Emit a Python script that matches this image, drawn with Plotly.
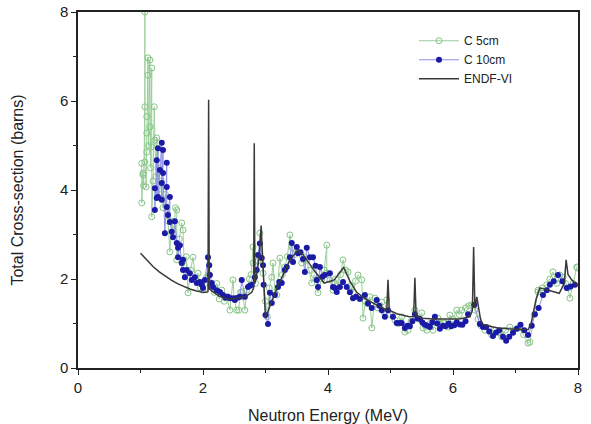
import plotly.graph_objects as go

# ENDF-VI evaluated curve
endf_x = [1.0, 1.1, 1.2, 1.3, 1.4, 1.5, 1.6, 1.7, 1.8, 1.9, 2.0, 2.06, 2.08, 2.09, 2.10, 2.15, 2.25, 2.4, 2.55, 2.7,
          2.78, 2.81, 2.82, 2.83, 2.86, 2.9, 2.93, 2.96, 3.0, 3.1, 3.2, 3.3, 3.4, 3.52, 3.6, 3.7, 3.8, 3.94, 4.1,
          4.25, 4.35, 4.46, 4.6, 4.8, 4.94, 4.96, 4.98, 5.1, 5.3, 5.37, 5.39, 5.41, 5.5, 5.7, 5.9, 6.1, 6.27, 6.31,
          6.33, 6.35, 6.38, 6.4, 6.44, 6.48, 6.6, 6.72, 6.9, 7.1, 7.2, 7.25, 7.33, 7.39, 7.5, 7.6, 7.7, 7.78, 7.81,
          7.84, 7.9, 8.0]
endf_y = [2.58, 2.42, 2.28, 2.16, 2.06, 1.97, 1.89, 1.83, 1.77, 1.73, 1.70, 1.70, 1.72, 6.03, 1.78, 1.72, 1.62, 1.55,
          1.57, 1.62, 1.70, 1.80, 5.05, 1.90, 2.10, 2.50, 3.20, 2.30, 1.12, 1.50, 1.85, 2.15, 2.45, 2.65, 2.55, 2.35,
          2.15, 1.91, 1.98, 2.26, 1.95, 1.70, 1.55, 1.40, 1.30, 1.98, 1.30, 1.22, 1.15, 1.16, 2.03, 1.16, 1.12, 1.10,
          1.10, 1.10, 1.15, 1.30, 2.72, 1.35, 1.60, 1.45, 1.10, 0.97, 0.93, 0.90, 0.88, 0.86, 0.86, 1.00, 1.55, 1.80,
          1.76, 1.72, 1.68, 1.90, 2.43, 2.10, 1.98, 1.85]

# C 10cm measurement
c10_x = [1.23, 1.23, 1.26, 1.26, 1.28, 1.28, 1.31, 1.34, 1.34, 1.34, 1.36, 1.36, 1.39, 1.42, 1.42, 1.42, 1.44, 1.47,
         1.47, 1.50, 1.52, 1.55, 1.58, 1.60, 1.60, 1.63, 1.66, 1.68, 1.68, 1.71, 1.74, 1.79, 1.82, 1.87, 1.90, 1.95,
         1.98, 2.00, 2.03, 2.08, 2.10, 2.11, 2.14, 2.16, 2.22, 2.27, 2.32, 2.36, 2.40, 2.43, 2.48, 2.51, 2.55, 2.59,
         2.62, 2.67, 2.72, 2.75, 2.78, 2.83, 2.86, 2.88, 2.91, 2.94, 2.96, 2.97, 3.00, 3.04, 3.07, 3.10, 3.15, 3.20,
         3.22, 3.26, 3.31, 3.34, 3.39, 3.42, 3.44, 3.50, 3.52, 3.56, 3.60, 3.63, 3.66, 3.71, 3.76, 3.80, 3.82, 3.84,
         3.87, 3.91, 3.95, 4.03, 4.08, 4.11, 4.14, 4.19, 4.24, 4.30, 4.35, 4.40, 4.45, 4.51, 4.59, 4.64, 4.70, 4.78,
         4.82, 4.86, 4.91, 4.96, 5.04, 5.10, 5.15, 5.18, 5.23, 5.27, 5.31, 5.35, 5.39, 5.43, 5.47, 5.51, 5.55, 5.59,
         5.63, 5.67, 5.71, 5.75, 5.79, 5.84, 5.88, 5.93, 5.97, 6.02, 6.06, 6.11, 6.15, 6.20, 6.24, 6.34, 6.43, 6.48,
         6.53, 6.58, 6.64, 6.69, 6.74, 6.80, 6.85, 6.90, 6.96, 7.02, 7.08, 7.14, 7.20, 7.26, 7.31, 7.37, 7.44, 7.50,
         7.55, 7.61, 7.68, 7.75, 7.82, 7.88, 7.95]
c10_y = [4.04, 3.55, 4.67, 3.82, 4.94, 3.84, 4.45, 5.06, 4.16, 3.78, 4.90, 4.38, 3.03, 4.61, 4.07, 3.62, 3.44, 3.84,
         3.28, 3.06, 2.94, 3.30, 2.81, 2.70, 2.49, 2.76, 2.36, 2.43, 2.20, 2.04, 2.20, 2.13, 1.98, 2.04, 1.91, 1.93,
         1.87, 1.80, 1.98, 2.49, 2.31, 2.09, 1.91, 1.82, 1.75, 1.71, 1.64, 1.58, 1.60, 1.57, 1.57, 1.53, 1.58, 1.60,
         1.98, 1.60, 1.82, 1.85, 1.87, 2.04, 2.20, 2.54, 2.80, 2.47, 2.31, 1.87, 1.19, 0.99, 1.69, 1.46, 1.64, 1.82,
         1.93, 1.91, 2.20, 2.27, 2.49, 2.81, 2.38, 2.72, 2.58, 2.60, 2.45, 2.16, 2.70, 2.49, 2.49, 2.30, 1.98, 1.82,
         2.27, 2.05, 2.09, 2.13, 1.82, 1.80, 1.71, 1.82, 1.93, 1.82, 1.70, 1.57, 1.60, 1.55, 1.64, 1.45, 1.35, 1.53,
         1.40, 1.30, 1.15, 1.30, 1.15, 1.01, 1.01, 1.01, 0.90, 0.95, 0.94, 1.05, 1.21, 1.12, 1.10, 1.02, 0.97, 0.95,
         0.92, 1.03, 1.15, 1.00, 0.88, 0.95, 0.94, 1.00, 0.94, 0.96, 1.03, 0.98, 0.97, 1.05, 1.21, 1.42, 0.99, 0.92,
         0.92, 0.82, 0.72, 0.80, 0.85, 0.70, 0.61, 0.70, 0.79, 0.88, 0.97, 0.85, 0.74, 0.95, 1.21, 1.35, 1.64, 1.75,
         1.87, 1.95, 2.09, 1.95, 1.80, 1.83, 1.87]

# C 5cm measurement
c5_x = [1.02, 1.02, 1.04, 1.04, 1.05, 1.07, 1.07, 1.07, 1.09, 1.10, 1.10, 1.10, 1.12, 1.12, 1.13, 1.15, 1.15, 1.16,
        1.18, 1.18, 1.18, 1.20, 1.22, 1.23, 1.25, 1.26, 1.28, 1.30, 1.33, 1.36, 1.40, 1.44, 1.47, 1.50, 1.53, 1.56,
        1.58, 1.58, 1.62, 1.66, 1.68, 1.70, 1.73, 1.76, 1.80, 1.84, 1.88, 1.92, 1.96, 2.00, 2.03, 2.06, 2.10, 2.13,
        2.18, 2.22, 2.26, 2.30, 2.34, 2.38, 2.43, 2.48, 2.50, 2.54, 2.57, 2.60, 2.62, 2.64, 2.67, 2.70, 2.74, 2.77,
        2.80, 2.80, 2.84, 2.88, 2.91, 2.96, 3.00, 3.03, 3.06, 3.10, 3.12, 3.15, 3.18, 3.23, 3.27, 3.31, 3.35, 3.39,
        3.43, 3.47, 3.52, 3.58, 3.62, 3.66, 3.70, 3.74, 3.78, 3.82, 3.84, 3.90, 3.94, 3.98, 3.98, 4.03, 4.08, 4.12,
        4.16, 4.20, 4.24, 4.28, 4.32, 4.36, 4.40, 4.44, 4.48, 4.54, 4.56, 4.60, 4.63, 4.67, 4.70, 4.75, 4.80, 4.86,
        4.90, 4.94, 5.00, 5.07, 5.12, 5.18, 5.23, 5.28, 5.33, 5.39, 5.44, 5.50, 5.52, 5.58, 5.63, 5.68, 5.72, 5.76,
        5.84, 5.87, 5.92, 5.95, 6.00, 6.06, 6.10, 6.14, 6.20, 6.25, 6.30, 6.35, 6.40, 6.45, 6.51, 6.57, 6.62, 6.68,
        6.75, 6.78, 6.84, 6.91, 6.97, 7.04, 7.07, 7.13, 7.20, 7.23, 7.30, 7.36, 7.36, 7.43, 7.50, 7.55, 7.60, 7.66,
        7.71, 7.76, 7.80, 7.84, 7.87, 7.92, 7.98, 7.99]
c5_y = [4.60, 3.71, 4.38, 4.34, 4.10, 5.87, 8.00, 4.63, 4.07, 5.65, 5.28, 4.85, 6.97, 6.58, 5.00, 6.92, 5.42, 4.50,
        6.74, 4.97, 3.40, 4.20, 5.87, 5.12, 4.30, 5.17, 4.50, 3.90, 4.20, 3.60, 3.90, 3.30, 2.61, 3.30, 3.00, 3.60,
        3.55, 2.43, 2.90, 3.26, 3.10, 2.30, 2.50, 1.69, 2.20, 2.49, 2.00, 2.13, 1.80, 1.75, 1.90, 2.04, 2.10, 1.85,
        1.70, 1.90, 1.55, 1.75, 1.50, 1.60, 1.30, 1.98, 1.55, 1.30, 1.30, 1.70, 1.71, 1.60, 1.30, 1.75, 2.00, 2.10,
        2.72, 2.36, 1.90, 2.40, 3.03, 2.13, 1.50, 1.15, 1.80, 2.04, 2.36, 1.70, 1.64, 2.47, 2.10, 2.27, 2.50, 2.99,
        2.70, 2.55, 2.60, 2.36, 2.50, 2.43, 2.20, 1.91, 2.10, 1.98, 1.69, 2.00, 2.20, 2.76, 2.13, 1.98, 1.75, 2.00,
        1.85, 2.10, 2.43, 2.20, 2.16, 1.85, 1.70, 1.95, 2.09, 1.98, 1.12, 1.50, 1.45, 1.60, 0.90, 1.57, 1.35, 1.48,
        1.25, 1.53, 1.20, 1.08, 1.00, 1.15, 0.81, 0.85, 1.05, 1.30, 1.10, 1.24, 0.90, 0.85, 1.00, 0.85, 1.05, 1.12,
        1.01, 1.01, 0.92, 1.19, 1.10, 1.30, 1.20, 1.30, 1.35, 1.40, 1.42, 1.30, 1.10, 0.95, 0.85, 0.90, 0.74, 0.85,
        0.79, 0.70, 0.85, 0.92, 0.85, 0.90, 0.90, 0.75, 0.56, 0.58, 1.20, 1.75, 1.71, 1.80, 1.87, 2.00, 2.16, 1.90,
        2.09, 2.04, 1.90, 1.80, 1.57, 1.90, 2.27, 2.25]

x_ticks = [0, 2, 4, 6, 8]
y_ticks = [0, 2, 4, 6, 8]

FONT = "Liberation Sans, Arial, sans-serif"

fig = go.Figure()
fig.add_trace(go.Scatter(
    x=c5_x, y=c5_y, mode="lines+markers", name="C 5cm",
    line=dict(color="#9ccf9c", width=1),
    marker=dict(symbol="circle-open", size=6, color="#86c486", line=dict(width=1)),
))
fig.add_trace(go.Scatter(
    x=c10_x, y=c10_y, mode="lines+markers", name="C 10cm",
    line=dict(color="#8f8fe8", width=1),
    marker=dict(symbol="circle", size=6, color="#1a1aa6"),
))
fig.add_trace(go.Scatter(
    x=endf_x, y=endf_y, mode="lines", name="ENDF-VI",
    line=dict(color="#3a3a3a", width=1.5),
))

axis_common = dict(
    showgrid=False, zeroline=False, showline=True, linecolor="#222", linewidth=1.5,
    mirror=True, ticks="outside", ticklen=5, tickwidth=1.2, tickcolor="#222", automargin=False,
    tickfont=dict(family=FONT, size=15, color="#222"),
    minor=dict(ticks="outside", ticklen=3, tickwidth=1, tickcolor="#222", dtick=1),
)

fig.update_xaxes(range=[0, 8], tickvals=x_ticks, ticktext=[str(v) for v in x_ticks],
                 title=dict(text="Neutron Energy (MeV)", font=dict(family=FONT, size=16, color="#222"), standoff=20),
                 **axis_common)
fig.update_yaxes(range=[0, 8], tickvals=y_ticks, ticktext=[str(v) for v in y_ticks],
                 title=dict(text="Total Cross-section (barns)", font=dict(family=FONT, size=16, color="#222"), standoff=32),
                 **axis_common)

fig.update_layout(
    width=591, height=424,
    margin=dict(l=78, r=13, t=12, b=56),
    paper_bgcolor="white", plot_bgcolor="white",
    showlegend=True,
    legend=dict(x=0.672, y=0.96, xanchor="left", yanchor="top", bgcolor="rgba(0,0,0,0)",
                font=dict(family=FONT, size=12, color="#222"), tracegroupgap=0, itemwidth=40),
)

fig.write_html("out.html")
